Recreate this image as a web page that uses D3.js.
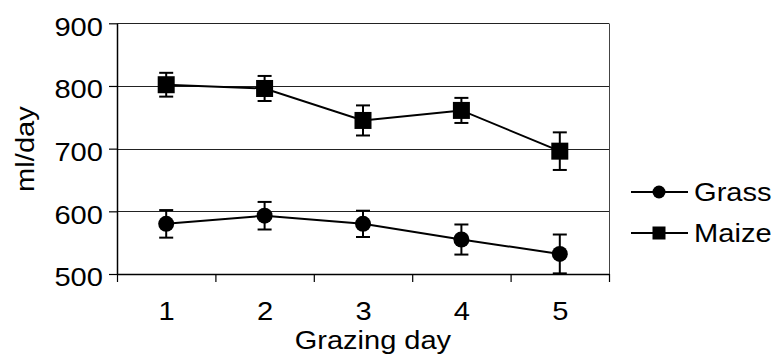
<!DOCTYPE html>
<html>
<head>
<meta charset="utf-8">
<script src="https://cdn.jsdelivr.net/npm/d3@7/dist/d3.min.js"></script>
<style>
  body { margin: 0; background: #fff; }
  text { font-family: "Liberation Sans", Arial, Helvetica, sans-serif; fill: #000; }
  .wide { transform-box: fill-box; transform: scaleX(1.12); }
  .wider { transform-box: fill-box; transform: scaleX(1.16); }
  .wide-end { transform-origin: right center; }
  .wide-mid { transform-origin: center center; }
  .wide-start { transform-origin: left center; }
</style>
</head>
<body>
<div id="chart"></div>
<script>
const days = [1, 2, 3, 4, 5];
const grass = [580, 593, 580, 555, 532];
const grassErr = [22, 22, 21, 24, 31];
const maize = [802, 796, 745, 761, 696];
const maizeErr = [19, 20, 24, 20, 30];
const yTicks = [500, 600, 700, 800, 900];
const seriesNames = ["Grass", "Maize"];

const W = 775, H = 354;
const plotL = 117, plotR = 609, plotT = 23.3, plotB = 274;

const svg = d3.select("#chart").append("svg")
  .attr("width", W).attr("height", H);

const x = d3.scaleLinear()
  .domain([days[0] - 0.5, days[days.length - 1] + 0.5])
  .range([plotL, plotR]);
const y = d3.scaleLinear()
  .domain([d3.min(yTicks), d3.max(yTicks)])
  .range([plotB, plotT]);

// gridlines (incl. top border)
svg.append("g")
  .selectAll("line")
  .data(yTicks.slice(1))
  .join("line")
  .attr("x1", plotL).attr("x2", plotR)
  .attr("y1", d => Math.round(y(d)) + 0.5).attr("y2", d => Math.round(y(d)) + 0.5)
  .attr("stroke", "#222").attr("stroke-width", 1);

// right border
svg.append("line")
  .attr("x1", plotR + 0.5).attr("x2", plotR + 0.5)
  .attr("y1", Math.round(y(900)) + 0.5).attr("y2", plotB)
  .attr("stroke", "#444").attr("stroke-width", 1);

// y axis
const yAxis = svg.append("g")
  .attr("transform", `translate(${plotL},0)`)
  .call(d3.axisLeft(y).tickValues(yTicks).tickSize(8).tickPadding(6).tickSizeOuter(0));
yAxis.select(".domain").attr("stroke", "#000").attr("stroke-width", 1.5);
yAxis.selectAll(".tick line").attr("stroke", "#000").attr("stroke-width", 1.2);
yAxis.selectAll(".tick text")
  .attr("font-size", 26).attr("dy", "0.45em")
  .attr("class", "wide wide-end");

// x axis: tick marks at category boundaries
const bounds = days.map(d => d - 0.5).concat([days[days.length - 1] + 0.5]);
const xAxis = svg.append("g")
  .attr("transform", `translate(0,${plotB})`)
  .call(d3.axisBottom(x).tickValues(bounds).tickSize(8).tickFormat("").tickSizeOuter(0));
xAxis.select(".domain").attr("stroke", "#000").attr("stroke-width", 1.5);
xAxis.selectAll(".tick line").attr("stroke", "#000").attr("stroke-width", 1.2);

// x labels at category centers
const xLab = svg.append("g")
  .attr("transform", `translate(0,${plotB})`)
  .call(d3.axisBottom(x).tickValues(days).tickSize(0).tickPadding(28).tickFormat(d3.format("d")));
xLab.select(".domain").remove();
xLab.selectAll(".tick text").attr("font-size", 26).attr("class", "wide wide-mid");

// axis titles
svg.append("text")
  .attr("x", 373).attr("y", 348.6)
  .attr("text-anchor", "middle")
  .attr("font-size", 25)
  .attr("class", "wider wide-mid")
  .text("Grazing day");

svg.append("g")
  .attr("transform", "translate(34,149) rotate(-90)")
  .append("text")
  .attr("text-anchor", "middle")
  .attr("font-size", 26)
  .attr("class", "wide wide-mid")
  .text("ml/day");

// series
const series = [
  { name: seriesNames[0], vals: grass, err: grassErr, shape: "circle" },
  { name: seriesNames[1], vals: maize, err: maizeErr, shape: "square" }
];

const line = d3.line().x((d, i) => x(days[i])).y(d => y(d));

series.forEach(s => {
  const g = svg.append("g");
  g.append("path")
    .attr("d", line(s.vals))
    .attr("fill", "none").attr("stroke", "#000").attr("stroke-width", 2);

  const eb = g.selectAll(".eb").data(s.vals).join("g");
  eb.append("line")
    .attr("x1", (d, i) => x(days[i])).attr("x2", (d, i) => x(days[i]))
    .attr("y1", (d, i) => y(d - s.err[i])).attr("y2", (d, i) => y(d + s.err[i]))
    .attr("stroke", "#000").attr("stroke-width", 2);
  [-1, 1].forEach(sign => {
    eb.append("line")
      .attr("x1", (d, i) => x(days[i]) - 7).attr("x2", (d, i) => x(days[i]) + 7)
      .attr("y1", (d, i) => y(d + sign * s.err[i])).attr("y2", (d, i) => y(d + sign * s.err[i]))
      .attr("stroke", "#000").attr("stroke-width", 2);
  });

  if (s.shape === "circle") {
    g.selectAll("circle").data(s.vals).join("circle")
      .attr("cx", (d, i) => x(days[i])).attr("cy", d => y(d))
      .attr("r", 8).attr("fill", "#000");
  } else {
    g.selectAll("rect").data(s.vals).join("rect")
      .attr("x", (d, i) => x(days[i]) - 8.5).attr("y", d => y(d) - 8.5)
      .attr("width", 17).attr("height", 17).attr("fill", "#000");
  }
});

// legend
const legend = svg.append("g");
series.forEach((s, k) => {
  const ly = 192 + k * 41;
  legend.append("line")
    .attr("x1", 631).attr("x2", 688).attr("y1", ly).attr("y2", ly)
    .attr("stroke", "#000").attr("stroke-width", 2);
  if (s.shape === "circle") {
    legend.append("circle").attr("cx", 659).attr("cy", ly).attr("r", 6.5).attr("fill", "#000");
  } else {
    legend.append("rect").attr("x", 652.5).attr("y", ly - 6.5)
      .attr("width", 13).attr("height", 13).attr("fill", "#000");
  }
  legend.append("text")
    .attr("x", 694).attr("y", ly + 9.5)
    .attr("font-size", 26)
    .attr("class", "wide wide-start")
    .text(s.name);
});
</script>
</body>
</html>
